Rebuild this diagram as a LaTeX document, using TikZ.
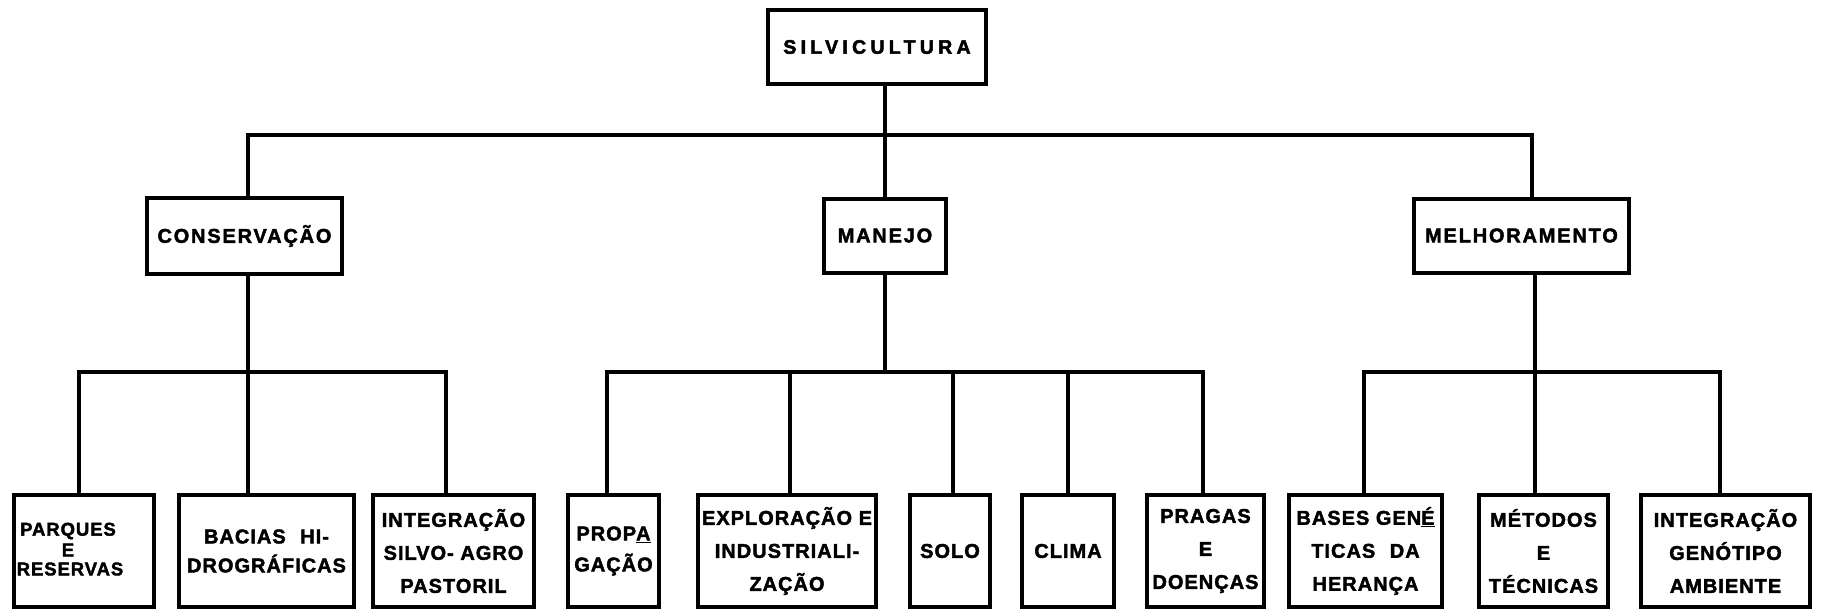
\documentclass[tikz,border=0pt]{standalone}
\usepackage{fontspec}
\newfontfamily\lblfont{Liberation Sans Bold}[LetterSpace=5, FakeBold=2]
\newfontfamily\midfont{Liberation Sans Bold}[LetterSpace=9, FakeBold=2]
\newfontfamily\topfont{Liberation Sans Bold}[LetterSpace=22, FakeBold=2.5]
\begin{document}
\begin{tikzpicture}[x=1pt,y=-1pt,
  box/.style={draw, line width=4pt, inner sep=0pt, align=center,
    font=\lblfont\fontsize{20}{33}\selectfont},
  midbox/.style={box, font=\midfont\fontsize{20}{24}\selectfont},
  lowbox/.style={box, minimum height=112pt},
  tightlbl/.style={inner sep=0pt, font=\lblfont\fontsize{18.5}{20}\selectfont},
  conn/.style={line width=3.2pt, line join=miter}]
\useasboundingbox (0,0) rectangle (1824,610);

% top
\node[box, minimum width=218pt, minimum height=74pt,
      font=\topfont\fontsize{19.5}{22}\selectfont] (silv) at (877,47) {SILVICULTURA};
% middle
\node[midbox, minimum width=195pt, minimum height=76pt] (cons) at (244.5,236) {CONSERVAÇÃO};
\node[midbox, minimum width=122pt, minimum height=74pt] (manejo) at (885,235.5) {MANEJO};
\node[midbox, minimum width=215pt, minimum height=74pt] (melh) at (1521.5,235.5) {MELHORAMENTO};

% bottom
\node[lowbox, minimum width=140pt] (parques) at (84,551) {};
\node[tightlbl] (pq1) at (68,531) {PARQUES};
\node[tightlbl] (pq2) at (68,550) {E};
\node[tightlbl] (pq3) at (70,569) {RESERVAS};
\node[lowbox, minimum width=175pt, font=\lblfont\fontsize{20}{29}\selectfont] (bacias) at (266.5,551) {BACIAS\hspace{8pt} HI-\\DROGRÁFICAS};
\node[lowbox, minimum width=161pt] (intega) at (453.5,551) {INTEGRAÇÃO\\SILVO- AGRO\\PASTORIL};
\node[lowbox, minimum width=91pt, font=\lblfont\fontsize{20}{31}\selectfont] (propa) at (613.5,551) {PROP\underline{A}\\GAÇÃO};
\node[lowbox, minimum width=178pt] (explor) at (787,551) {EXPLORAÇÃO E\\INDUSTRIALI-\\ZAÇÃO};
\node[lowbox, minimum width=80pt] (solo) at (950,551) {SOLO};
\node[lowbox, minimum width=92pt] (clima) at (1068,551) {CLIMA};
\node[lowbox, minimum width=117pt] (pragas) at (1205.5,551) {PRAGAS\\E\\DOENÇAS};
\node[lowbox, minimum width=153pt] (bases) at (1365.5,551) {BASES GEN\underline{É}\\TICAS\hspace{8pt} DA\\HERANÇA};
\node[lowbox, minimum width=129pt] (metodos) at (1543.5,551) {MÉTODOS\\E\\TÉCNICAS};
\node[lowbox, minimum width=169pt] (integb) at (1725.5,551) {INTEGRAÇÃO\\GENÓTIPO\\AMBIENTE};

% junction coordinates
\coordinate (tb1) at (248,135);
\coordinate (tb3) at (1532,135);
\coordinate (c1) at (79,372);
\coordinate (c2) at (248,372);
\coordinate (c3) at (446,372);
\coordinate (m1) at (607,372);
\coordinate (m2) at (790,372);
\coordinate (m3) at (953,372);
\coordinate (m4) at (1068,372);
\coordinate (m5) at (1203,372);
\coordinate (b1) at (1364,372);
\coordinate (b2) at (1535,372);
\coordinate (b3) at (1720,372);

% level 1
\draw[conn] (manejo.north |- silv.south) -- (manejo.north);
\draw[conn] (tb1 |- cons.north) -- (tb1) -- (tb3) -- (tb3 |- melh.north);

% conservacao
\draw[conn] (c1 |- parques.north) -- (c1) -- (c3) -- (c3 |- intega.north);
\draw[conn] (c2 |- cons.south) -- (c2 |- bacias.north);

% manejo
\draw[conn] (m1 |- propa.north) -- (m1) -- (m5) -- (m5 |- pragas.north);
\draw[conn] (manejo.south) -- (manejo.south |- m1);
\draw[conn] (m2) -- (m2 |- explor.north);
\draw[conn] (m3) -- (m3 |- solo.north);
\draw[conn] (m4) -- (m4 |- clima.north);

% melhoramento
\draw[conn] (b1 |- bases.north) -- (b1) -- (b3) -- (b3 |- integb.north);
\draw[conn] (b2 |- melh.south) -- (b2 |- metodos.north);
\end{tikzpicture}
\end{document}
